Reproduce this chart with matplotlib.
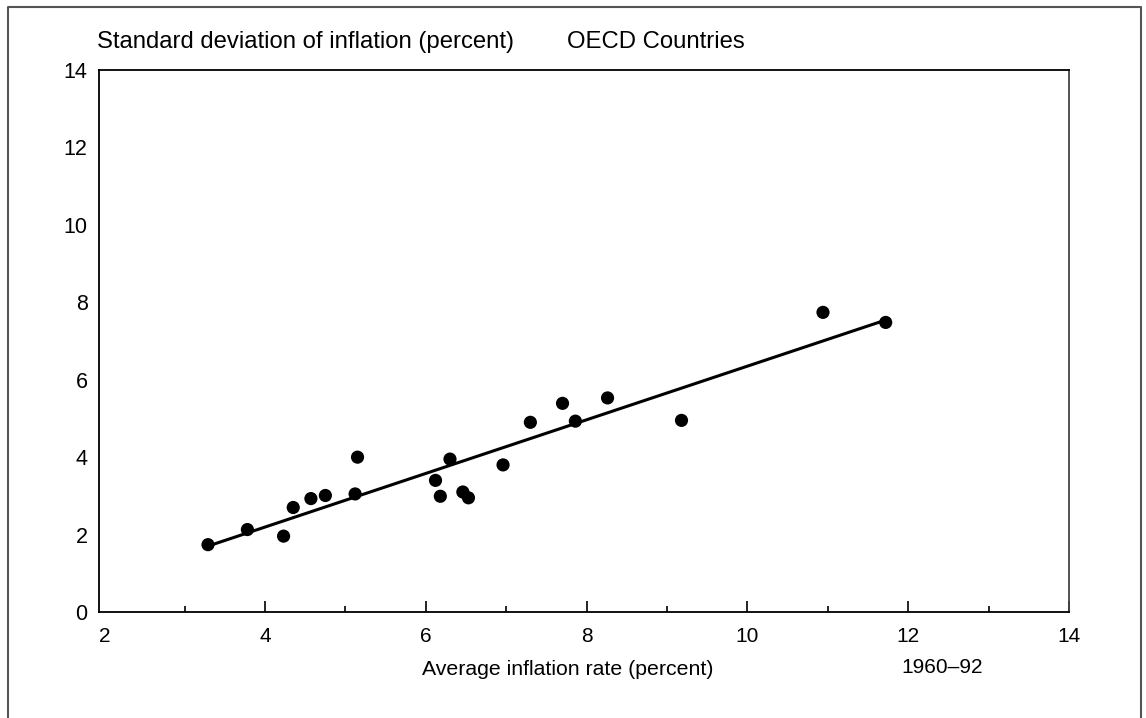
import numpy as np
import matplotlib
matplotlib.use("Agg")
import matplotlib.pyplot as plt
from matplotlib.lines import Line2D

plt.rcParams['font.family'] = ['Liberation Sans', 'DejaVu Sans']

# Average inflation (x) vs standard deviation of inflation (y), OECD countries 1960-92
avg_inflation = [3.29, 3.78, 4.23, 4.35, 4.57, 4.75, 5.12, 5.15, 6.12, 6.18, 6.30,
                 6.46, 6.53, 6.96, 7.30, 7.70, 7.86, 8.26, 9.18, 10.94, 11.72]
std_inflation = [1.74, 2.13, 1.96, 2.70, 2.93, 3.01, 3.05, 4.00, 3.40, 2.99, 3.95,
                 3.10, 2.95, 3.80, 4.90, 5.39, 4.93, 5.53, 4.95, 7.74, 7.48]

x_ticks = [2, 4, 6, 8, 10, 12, 14]
y_ticks = [0, 2, 4, 6, 8, 10, 12, 14]

fig = plt.figure(figsize=(11.46, 7.18), dpi=100)
ax = fig.add_axes([0.0861, 0.1476, 0.8467, 0.7549])

x = np.array(avg_inflation)
y = np.array(std_inflation)

# least-squares trend line over the range of the data
slope, intercept = np.polyfit(x, y, 1)
xs = np.array([x.min(), x.max()])
ax.plot(xs, slope * xs + intercept, color='black', lw=2.2, zorder=2)

ax.scatter(x, y, s=90, color='black', edgecolors='none', zorder=3)

ax.set_xlim(1.93, 14)
ax.set_ylim(0, 14)
ax.set_xticks(x_ticks)
ax.set_xticks(np.arange(3, 14, 2), minor=True)
ax.set_yticks(y_ticks)

ax.tick_params(axis='x', which='major', direction='in', length=8, width=1.2,
               labelsize=15, pad=11)
ax.tick_params(axis='x', which='minor', direction='in', length=4, width=1.2)
ax.tick_params(axis='y', length=0, labelsize=15.5, pad=8)
# the first label sits on the spine, so no tick mark there
ax.xaxis.get_major_ticks()[0].tick1line.set_visible(False)

for side in ['left', 'bottom', 'top']:
    ax.spines[side].set_linewidth(1.3)
    ax.spines[side].set_color('black')
ax.spines['right'].set_linewidth(1.3)
ax.spines['right'].set_color('#444444')

fig.text(0.0846, 1 - 48 / 718, 'Standard deviation of inflation (percent)',
         fontsize=17.2, va='baseline', ha='left')
fig.text(0.4948, 1 - 48 / 718, 'OECD Countries', fontsize=17.2,
         va='baseline', ha='left')
fig.text(0.3682, 1 - 675 / 718, 'Average inflation rate (percent)', fontsize=15.3,
         va='baseline', ha='left')
fig.text(0.7868, 1 - 673 / 718, '1960\u201392', fontsize=15,
         va='baseline', ha='left')

# open-bottomed frame around the whole figure
frame_x = [7.5 / 1146, 7.5 / 1146, 1140.5 / 1146, 1140.5 / 1146]
frame_y = [0.0, 1 - 6.5 / 718, 1 - 6.5 / 718, 0.0]
fig.add_artist(Line2D(frame_x, frame_y, color='#555555', lw=1.5,
                      transform=fig.transFigure))

fig.savefig('out.png', dpi=100)
